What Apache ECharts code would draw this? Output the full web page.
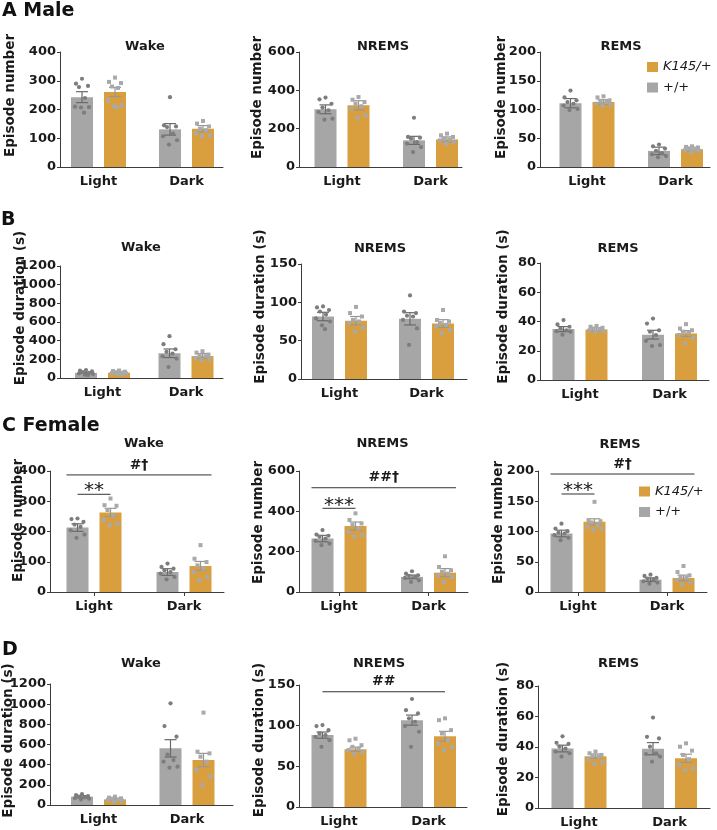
<!DOCTYPE html>
<html>
<head>
<meta charset="utf-8">
<script src="https://cdn.jsdelivr.net/npm/echarts@6.0.0/dist/echarts.min.js"></script>
<style>
	html, body { margin: 0; padding: 0; background: #fff; }
	#main { width: 717px; height: 830px; }
</style>
</head>
<body>
<div id="main"></div>
<script>
var categories = ['Light', 'Dark'];
var seriesNames = ['+/+', 'K145/+'];

// A Male - episode number  [Light, Dark]
var aWakeWT = [243, 131], aWakeWTsem = [19, 20];
var aWakeWTpts = [[307, 290, 282, 278, 240, 210, 208, 207, 189], [243, 145, 141, 139, 116, 107, 93, 78]];
var aWakeK = [261, 133], aWakeKsem = [16, 11];
var aWakeKpts = [[311, 296, 292, 280, 275, 232, 214, 211, 209], [160, 151, 141, 133, 128, 118, 110, 107]];

var aNremWT = [301, 139], aNremWTsem = [23, 21];
var aNremWTpts = [[362, 353, 330, 310, 296, 287, 252, 247], [257, 157, 153, 148, 130, 122, 104, 78]];
var aNremK = [322, 144], aNremKsem = [24, 13];
var aNremKpts = [[365, 351, 339, 330, 317, 304, 270, 257], [174, 165, 157, 148, 143, 139, 130, 122]];

var aRemWT = [111, 28], aRemWTsem = [8, 6.5];
var aRemWTpts = [[133, 121, 116, 113, 110, 107, 101, 99], [39, 36, 32, 28, 24, 22, 19, 17]];
var aRemK = [113, 31], aRemKsem = [4, 3.5];
var aRemKpts = [[123, 121, 116, 115, 113, 110, 108, 107], [36, 35, 34, 32, 30, 29, 28, 26]];

// B Male - episode duration (s)
var bWakeWT = [55, 265], bWakeWTsem = [5, 46];
var bWakeWTpts = [[85, 78, 70, 62, 55, 48, 42, 35, 30], [448, 362, 308, 280, 262, 233, 208, 118]];
var bWakeK = [58, 235], bWakeKsem = [5, 27];
var bWakeKpts = [[80, 75, 68, 62, 58, 52, 48, 40, 38], [287, 272, 251, 244, 233, 215, 201, 190]];

var bNremWT = [81.5, 78.5], bNremWTsem = [5.5, 8];
var bNremWTpts = [[94.6, 93.3, 90, 88, 84, 79, 75, 70, 65], [109, 88, 86, 82.5, 81.5, 77, 66, 44.5]];
var bNremK = [76, 72.4], bNremKsem = [5.5, 5];
var bNremKpts = [[94, 86, 81.5, 77, 75, 73, 67, 62], [90, 77, 75, 73, 70.6, 68.5, 64, 60]];

var bRemWT = [34.8, 31], bRemWTsem = [1.7, 3];
var bRemWTpts = [[41, 38, 36.4, 35.2, 34, 33.4, 33, 31], [42, 38.6, 34, 33, 30.7, 26.8, 23.9, 23.2]];
var bRemK = [34.5, 31.8], bRemKsem = [1.2, 2];
var bRemKpts = [[37, 36.4, 35.7, 35.2, 34.5, 34, 33.4, 33], [38.2, 35.2, 34, 33, 32.5, 30.7, 28.9, 25]];

// C Female - episode number
var cWakeWT = [213, 66], cWakeWTsem = [12.5, 11];
var cWakeWTpts = [[243, 241, 232, 223, 215, 204, 190, 179], [94, 83, 77, 72, 66, 61, 50, 42]];
var cWakeK = [263, 86], cWakeKsem = [13.5, 15];
var cWakeKpts = [[309, 287, 285, 271, 254, 238, 226, 221], [155, 110, 99, 88, 77, 66, 50, 39]];

var cNremWT = [265, 75], cNremWTsem = [16, 9];
var cNremWTpts = [[307, 285, 279, 274, 265, 254, 240, 232], [103, 91, 83, 80, 75, 70, 58, 50]];
var cNremK = [327, 96], cNremKsem = [20, 20];
var cNremKpts = [[390, 357, 340, 332, 315, 299, 282, 274], [177, 124, 108, 100, 91, 83, 75, 50]];

var cRemWT = [96.7, 20.4], cRemWTsem = [5.5, 3];
var cRemWTpts = [[113, 105, 100.5, 98, 96.7, 94, 89.5, 85.6], [28.7, 26.5, 23.2, 22, 20.4, 17.7, 15.5, 13.8]];
var cRemK = [116, 23.2], cRemKsem = [5, 4.7];
var cRemKpts = [[149, 118.8, 117, 115, 110.5, 107.7, 105, 102], [43, 33, 27.6, 24.9, 23.2, 19.3, 15.5, 12]];

// D Female - episode duration (s)
var dWakeWT = [83, 562], dWakeWTsem = [10, 86];
var dWakeWTpts = [[109, 99, 89, 83, 76, 69, 63, 56], [1008, 783, 678, 500, 446, 430, 380, 370]];
var dWakeK = [56, 446], dWakeKsem = [8, 66];
var dWakeKpts = [[83, 73, 66, 63, 56, 50, 43, 33], [916, 529, 512, 479, 430, 347, 281, 198]];

var dNremWT = [88.4, 106.8], dNremWTsem = [3.8, 6.2];
var dNremWTpts = [[100.7, 99.5, 94.5, 90.4, 88.4, 86.3, 82.2, 74], [132.8, 119, 115, 109, 104.8, 99.5, 92.5, 74]];
var dNremK = [71, 87], dNremKsem = [2.5, 6];
var dNremKpts = [[84, 82, 76, 74, 72, 70, 67.8, 65], [109, 106.8, 94.5, 90.4, 82.2, 78, 74, 70]];

var dRemWT = [39, 38.9], dRemWTsem = [2.2, 4];
var dRemWTpts = [[47, 42.8, 42, 40.2, 39, 37, 35.9, 33.7], [59.3, 46.7, 45.6, 40.2, 35.9, 35.4, 33.7, 30.4]];
var dRemK = [34, 32.6], dRemKsem = [1.4, 2.7];
var dRemKpts = [[37, 35.9, 34.8, 34, 33.7, 32, 29.8, 29], [42.4, 40.2, 37.6, 34.8, 32, 28.3, 26, 24.6]];

// significance bars: [fromCat, value, fromSide, toCat, toSide]
var cWakeSig = [[0, 387, -2, 1, 2], [0, 323, -1, 0, 1]], cWakeSigText = ['#†', '**'];
var cNremSig = [[0, 517, -2, 1, 2], [0, 415, -1, 0, 1]], cNremSigText = ['##†', '***'];
var cRemSig = [[0, 195, -2, 1, 2], [0, 162, -1, 0, 1]], cRemSigText = ['#†', '***'];
var dNremSig = [[0, 141.7, -1, 1, 1]], dNremSigText = ['##'];

var titles = ['Wake', 'NREMS', 'REMS', 'Wake', 'NREMS', 'REMS', 'Wake', 'NREMS', 'REMS', 'Wake', 'NREMS', 'REMS'];
var yNames = ['Episode number', 'Episode number', 'Episode number',
	'Episode duration (s)', 'Episode duration (s)', 'Episode duration (s)',
	'Episode number', 'Episode number', 'Episode number',
	'Episode duration (s)', 'Episode duration (s)', 'Episode duration (s)'];
var yMax = [400, 600, 200, 1200, 150, 80, 400, 600, 200, 1200, 150, 80];
var yStep = [100, 200, 50, 200, 50, 20, 100, 200, 50, 200, 50, 20];

var panelData = [
	[aWakeWT, aWakeWTsem, aWakeWTpts, aWakeK, aWakeKsem, aWakeKpts],
	[aNremWT, aNremWTsem, aNremWTpts, aNremK, aNremKsem, aNremKpts],
	[aRemWT, aRemWTsem, aRemWTpts, aRemK, aRemKsem, aRemKpts],
	[bWakeWT, bWakeWTsem, bWakeWTpts, bWakeK, bWakeKsem, bWakeKpts],
	[bNremWT, bNremWTsem, bNremWTpts, bNremK, bNremKsem, bNremKpts],
	[bRemWT, bRemWTsem, bRemWTpts, bRemK, bRemKsem, bRemKpts],
	[cWakeWT, cWakeWTsem, cWakeWTpts, cWakeK, cWakeKsem, cWakeKpts],
	[cNremWT, cNremWTsem, cNremWTpts, cNremK, cNremKsem, cNremKpts],
	[cRemWT, cRemWTsem, cRemWTpts, cRemK, cRemKsem, cRemKpts],
	[dWakeWT, dWakeWTsem, dWakeWTpts, dWakeK, dWakeKsem, dWakeKpts],
	[dNremWT, dNremWTsem, dNremWTpts, dNremK, dNremKsem, dNremKpts],
	[dRemWT, dRemWTsem, dRemWTpts, dRemK, dRemKsem, dRemKpts]
];
var panelSig = [null, null, null, null, null, null,
	[cWakeSig, cWakeSigText], [cNremSig, cNremSigText], [cRemSig, cRemSigText],
	null, [dNremSig, dNremSigText], null];

// layout (pixels): axis frame [left, right, top, bottom] and group centres
var frameBox = [
	[60, 223, 52, 167], [299, 462, 52, 167], [540, 710, 52, 167],
	[60, 223, 266, 378], [301, 467, 264, 379], [540, 709, 263, 380],
	[50, 224, 471, 592], [299, 468, 471, 592], [538, 707, 471, 592],
	[50, 233, 684, 805], [299, 467, 685, 807], [538, 710, 686, 808]
];
var groupX = [
	[98.5, 186.5], [342, 430.5], [587, 675.5],
	[102.5, 186], [339.5, 426.5], [580, 669.5],
	[94, 184], [339, 428.5], [578, 667],
	[98.5, 187], [339, 428.5], [579, 669.5]
];
var nameGap = [43, 35, 32, 33, 34, 30, 25, 34, 33, 35, 33, 28];
var nameShift = [14, 12, 12, 14, 15, 15, 11, 9, 9, 4, 6, 8];
var titleXY = [
	[145, 46.5], [383, 46.5], [621, 46.5],
	[141, 248], [380, 248.5], [618, 248.5],
	[144, 443.5], [382.5, 443.5], [620, 445],
	[141, 664], [379, 664], [618.5, 664]
];
var rowLabels = [['A Male', 2, 11], ['B', 1, 220], ['C Female', 2, 426.5], ['D', 2, 650]];

var FONT = 'DejaVu Sans';
var TXT = '#1a1a1a';
var AXIS = '#3c3c3c';
var GRAY = '#a6a6a6', ORANGE = '#d99f3f';
var BAR_W = 22, BAR_GAP = 11;
var BAR_OFF = (BAR_W + BAR_GAP) / 2;
var CAP = 6;
var JIT = [0, -6, 6, -3, 3, -7, 7, -1, 2];

function sideOffset(s) {
	if(s == -1) return -BAR_OFF;
	if(s == 1) return BAR_OFF;
	if(s == -2) return -BAR_OFF - BAR_W / 2;
	return BAR_OFF + BAR_W / 2;
}

function dotRenderer(pts, side, dotColor, errColor, square) {
	return function(params, api) {
		var cat = api.value(0), mean = api.value(1), sem = api.value(2);
		var x = api.coord([cat, mean])[0] + side * BAR_OFF;
		var yHi = api.coord([cat, mean + sem])[1];
		var yLo = api.coord([cat, mean - sem])[1];
		var ls = { stroke: errColor, lineWidth: 1.2 };
		var kids = [
			{ type: 'line', shape: { x1: x, y1: yHi, x2: x, y2: yLo }, style: ls },
			{ type: 'line', shape: { x1: x - CAP, y1: yHi, x2: x + CAP, y2: yHi }, style: ls },
			{ type: 'line', shape: { x1: x - CAP, y1: yLo, x2: x + CAP, y2: yLo }, style: ls }
		];
		var list = pts[params.dataIndex];
		for(var i = 0; i < list.length; i++) {
			var py = api.coord([cat, list[i]])[1];
			var px = x + JIT[i % JIT.length];
			if(square) kids.push({ type: 'rect', shape: { x: px - 2, y: py - 2, width: 4, height: 4 }, style: { fill: dotColor } });
			else kids.push({ type: 'circle', shape: { cx: px, cy: py, r: 2.1 }, style: { fill: dotColor } });
		}
		return { type: 'group', children: kids };
	};
}

function sigRenderer(texts) {
	return function(params, api) {
		var y = api.coord([0, api.value(1)])[1];
		var x0 = api.coord([api.value(0), 0])[0] + sideOffset(api.value(2));
		var x1 = api.coord([api.value(3), 0])[0] + sideOffset(api.value(4));
		var t = texts[params.dataIndex];
		var star = t.indexOf('*') >= 0;
		return { type: 'group', children: [
			{ type: 'line', shape: { x1: x0, y1: y, x2: x1, y2: y }, style: { stroke: '#333', lineWidth: 1 } },
			{ type: 'text', x: (x0 + x1) / 2, y: y - (star ? 3 : 10), style: {
				text: t, align: 'center', verticalAlign: 'middle', fill: TXT,
				fontSize: star ? 20 : 14, fontWeight: star ? 'normal' : 'bold', fontFamily: FONT } }
		] };
	};
}

var option = {
	animation: false,
	backgroundColor: '#fff',
	grid: [], xAxis: [], yAxis: [], series: [], graphic: [],
	legend: []
};

for(var p = 0; p < 12; p++) {
	var fb = frameBox[p], gx = groupX[p], d = panelData[p];
	var row = Math.floor(p / 3);
	// data grid spans the two group centres
	option.grid.push({ left: gx[0], top: fb[2], width: gx[1] - gx[0], height: fb[3] - fb[2], outerBoundsMode: 'none' });
	// frame grid carries the drawn axes
	option.grid.push({ left: fb[0], top: fb[2], width: fb[1] - fb[0], height: fb[3] - fb[2], outerBoundsMode: 'none' });

	option.xAxis.push({
		type: 'category', gridIndex: 2 * p, data: categories, boundaryGap: false,
		axisLine: { show: false },
		axisTick: { show: row == 2, alignWithLabel: true, length: 4, lineStyle: { color: AXIS } },
		axisLabel: { margin: 8, fontSize: 13, fontWeight: 'bold', fontFamily: FONT, color: TXT },
		splitLine: { show: false }
	});
	option.xAxis.push({
		type: 'value', gridIndex: 2 * p + 1, min: 0, max: 1,
		axisLine: { show: true, lineStyle: { color: AXIS, width: 1 } },
		axisTick: { show: false }, axisLabel: { show: false }, splitLine: { show: false }
	});
	option.yAxis.push({ type: 'value', gridIndex: 2 * p, min: 0, max: yMax[p], interval: yStep[p], show: false });
	option.yAxis.push({
		type: 'value', gridIndex: 2 * p + 1, min: 0, max: yMax[p], interval: yStep[p],
		name: yNames[p], nameLocation: 'middle', nameGap: nameGap[p], nameRotate: 90, nameMoveOverlap: false,
		nameTextStyle: { fontSize: 13.5, fontWeight: 'bold', fontFamily: FONT, color: TXT, padding: [0, 0, 0, 2 * nameShift[p]] },
		axisLine: { show: true, lineStyle: { color: AXIS, width: 1 } },
		axisTick: { show: true, length: 3, lineStyle: { color: AXIS } },
		axisLabel: { margin: 4, fontSize: 13, fontWeight: 'bold', fontFamily: FONT, color: TXT,
			formatter: function(v) { return String(v); } },
		splitLine: { show: false }
	});

	option.series.push({
		name: seriesNames[0], type: 'bar', xAxisIndex: 2 * p, yAxisIndex: 2 * p, data: d[0],
		barWidth: BAR_W, barGap: '50%', clip: false, itemStyle: { color: GRAY }, z: 2
	});
	option.series.push({
		name: seriesNames[1], type: 'bar', xAxisIndex: 2 * p, yAxisIndex: 2 * p, data: d[3],
		barWidth: BAR_W, barGap: '50%', clip: false, itemStyle: { color: ORANGE }, z: 2
	});
	option.series.push({
		type: 'custom', xAxisIndex: 2 * p, yAxisIndex: 2 * p, z: 3, encode: { x: 0, y: 1 },
		data: [[0, d[0][0], d[1][0]], [1, d[0][1], d[1][1]]],
		renderItem: dotRenderer(d[2], -1, '#7d7d7d', '#6a6a6a', false)
	});
	option.series.push({
		type: 'custom', xAxisIndex: 2 * p, yAxisIndex: 2 * p, z: 3, encode: { x: 0, y: 1 },
		data: [[0, d[3][0], d[4][0]], [1, d[3][1], d[4][1]]],
		renderItem: dotRenderer(d[5], 1, '#a9a9a9', '#979797', true)
	});
	if(panelSig[p] != null) {
		option.series.push({
			type: 'custom', xAxisIndex: 2 * p, yAxisIndex: 2 * p, z: 4, encode: { x: 0, y: 1 },
			data: panelSig[p][0], renderItem: sigRenderer(panelSig[p][1])
		});
	}
	option.graphic.push({
		type: 'text', x: titleXY[p][0], y: titleXY[p][1],
		style: { text: titles[p], align: 'center', verticalAlign: 'middle', fontSize: 13, fontWeight: 'bold', fontFamily: FONT, fill: TXT }
	});
}

for(var r = 0; r < rowLabels.length; r++) {
	option.graphic.push({
		type: 'text', x: rowLabels[r][1], y: rowLabels[r][2],
		style: { text: rowLabels[r][0], align: 'left', verticalAlign: 'middle', fontSize: 19, fontWeight: 'bold', fontFamily: FONT, fill: '#111' }
	});
}

function legendAt(left, top) {
	return {
		data: ['K145/+', '+/+'], orient: 'vertical', left: left, top: top, padding: 0,
		icon: 'rect', itemWidth: 11, itemHeight: 10, itemGap: 7.5, selectedMode: false,
		formatter: function(name) { return name == 'K145/+' ? '{i|' + name + '}' : name; },
		textStyle: { fontSize: 13, fontFamily: FONT, color: TXT, rich: { i: { fontSize: 13, fontStyle: 'italic', fontFamily: FONT, color: TXT } } }
	};
}
option.legend.push(legendAt(647, 60.5));
option.legend.push(legendAt(639, 485));

var chart = echarts.init(document.getElementById('main'));
chart.setOption(option);
</script>
</body>
</html>
